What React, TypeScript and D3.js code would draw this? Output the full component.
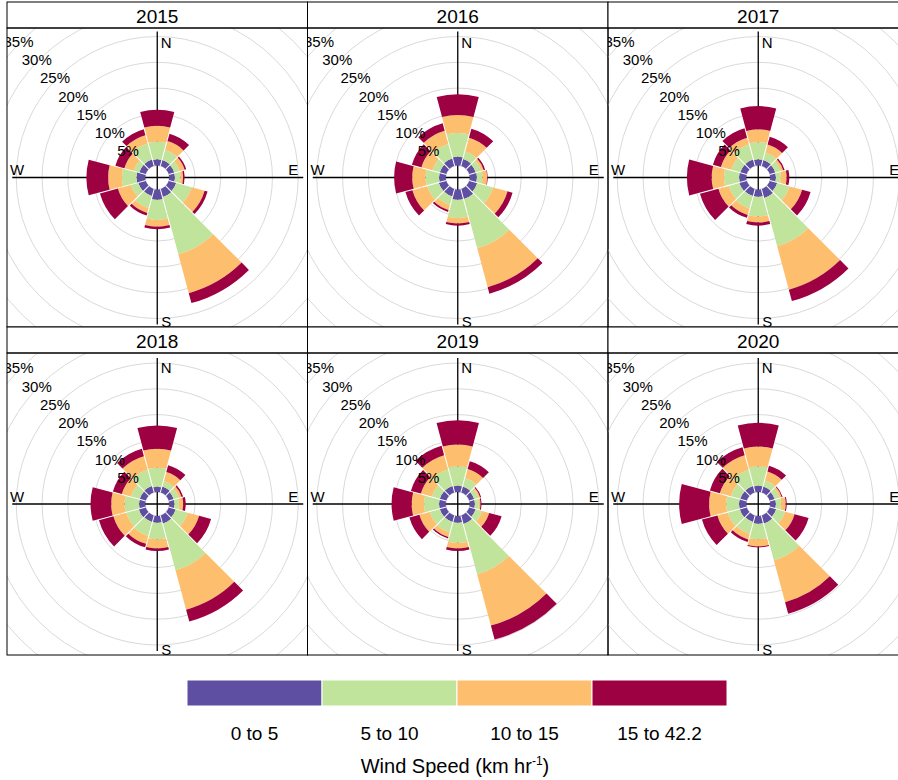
import * as d3 from 'd3'

// wind direction bins (degrees from north) and speed bins
const directions = [0, 30, 60, 90, 120, 150, 180, 210, 240, 270, 300, 330]
const speedBins = ['0 to 5', '5 to 10', '10 to 15', '15 to 42.2']
const binColours = ['#5E4FA2', '#C1E49C', '#FDBE6E', '#9E0142']
const years = ['2015', '2016', '2017', '2018', '2019', '2020']

// frequency (%) per speed bin, one row per bin, one value per direction
const freq2015 = [
  [1.2, 1.2, 1.1, 1.1, 1.5, 1.6, 2.0, 1.4, 1.5, 1.7, 1.3, 1.3],
  [3.4, 2.0, 1.1, 1.1, 3.1, 11.5, 3.9, 2.4, 1.5, 2.8, 1.1, 3.2],
  [3.1, 1.8, 1.0, 0.5, 2.6, 7.8, 1.3, 1.0, 2.6, 2.7, 1.9, 1.7],
  [3.1, 1.5, 0.3, 0.3, 0.6, 2.0, 0.5, 0.5, 3.6, 4.2, 1.8, 1.2],
]
const freq2016 = [
  [1.7, 1.4, 1.3, 1.4, 1.6, 2.0, 2.0, 1.5, 1.5, 1.3, 1.3, 1.5],
  [4.6, 1.5, 1.1, 1.1, 3.2, 9.9, 3.5, 1.7, 2.3, 2.6, 1.5, 2.9],
  [3.5, 2.8, 0.5, 0.9, 2.9, 7.8, 1.1, 1.0, 3.0, 2.6, 2.2, 2.7],
  [4.0, 1.8, 0.3, 0.1, 1.0, 1.3, 0.4, 0.4, 1.4, 3.5, 1.9, 1.5],
]
const freq2017 = [
  [1.2, 1.2, 1.1, 1.1, 1.5, 1.8, 1.4, 1.4, 1.5, 1.4, 1.3, 1.3],
  [3.3, 1.5, 1.1, 1.0, 2.5, 9.7, 3.8, 2.5, 2.1, 2.9, 1.8, 3.0],
  [2.5, 1.6, 0.5, 1.1, 2.5, 8.7, 1.2, 1.3, 2.1, 2.4, 2.1, 1.4],
  [4.5, 1.6, 0.3, 0.5, 1.7, 2.3, 0.6, 0.6, 3.7, 4.8, 1.6, 1.9],
]
const freq2018 = [
  [1.0, 1.2, 1.0, 1.0, 1.4, 1.6, 1.3, 1.3, 1.4, 1.2, 1.2, 1.3],
  [3.7, 1.1, 1.0, 0.9, 2.4, 9.4, 3.2, 2.8, 2.5, 2.8, 1.8, 3.2],
  [3.7, 1.8, 0.6, 0.8, 2.3, 7.9, 1.8, 1.6, 2.6, 2.6, 1.8, 2.8],
  [4.5, 1.4, 0.3, 0.5, 2.4, 2.4, 0.5, 0.7, 2.9, 4.0, 1.8, 1.5],
]
const freq2019 = [
  [1.2, 1.2, 1.0, 1.0, 1.3, 1.7, 1.3, 1.3, 1.3, 1.3, 1.3, 1.3],
  [3.8, 1.7, 0.9, 0.8, 1.3, 10.1, 3.9, 2.1, 2.0, 2.9, 1.6, 3.3],
  [4.2, 1.8, 0.3, 0.3, 1.4, 10.3, 1.1, 0.9, 2.1, 2.4, 2.2, 2.9],
  [4.7, 1.6, 0.2, 0.2, 2.5, 2.8, 0.5, 0.3, 2.0, 3.9, 2.0, 1.9],
]
const freq2020 = [
  [1.2, 1.2, 1.0, 1.1, 1.3, 1.6, 1.5, 1.3, 1.4, 1.4, 1.3, 1.3],
  [3.8, 1.2, 1.0, 1.0, 1.8, 7.4, 3.0, 2.4, 2.4, 2.5, 1.9, 3.2],
  [3.8, 1.8, 0.4, 0.9, 1.9, 8.4, 1.4, 1.1, 2.1, 3.3, 2.2, 3.0],
  [4.6, 1.2, 0.2, 0.2, 2.8, 2.3, 0.2, 0.5, 3.1, 5.8, 2.0, 1.6],
]
const yearFreqs = [freq2015, freq2016, freq2017, freq2018, freq2019, freq2020]

// grid rings every 5 %
const ringTicks = [0, 5, 10, 15, 20, 25, 30, 35, 40, 45]
const labelTicks = [5, 10, 15, 20, 25, 30, 35]

const W = 898
const H = 780
const colEdges = [7, 307.5, 608, 908.5]
const rowTops = [2, 327]
const stripH = 26
const rowBottoms = [327, 655]
const FONT = '"Liberation Sans", Arial, sans-serif'

const rScale = d3.scaleLinear().domain([0, 40]).range([12, 12 + 8 * 25.8])
const half = (30 / 2) * Math.PI / 180
const toRad = (deg: number) => deg * Math.PI / 180

function Panel({ idx }: { idx: number }) {
  const col = idx % 3
  const row = Math.floor(idx / 3)
  const x0 = colEdges[col]
  const x1 = colEdges[col + 1]
  const top = rowTops[row]
  const py0 = top + stripH
  const py1 = rowBottoms[row]
  const cx = (x0 + x1) / 2
  const cy = (py0 + py1) / 2
  const freqs = yearFreqs[idx]
  const clipId = `clip-${idx}`

  const arc = d3.arc<any>().padAngle(0.01).padRadius(100)

  const wedges: { d: string; fill: string; key: string }[] = []
  directions.forEach((dir, j) => {
    let cum = 0
    freqs.forEach((row, b) => {
      const v = row[j]
      const d = arc({
        innerRadius: rScale(cum),
        outerRadius: rScale(cum + v),
        startAngle: toRad(dir) - half,
        endAngle: toRad(dir) + half,
      })
      cum += v
      wedges.push({ d: d || '', fill: binColours[b], key: `${dir}-${b}` })
    })
  })

  const labAng = toRad(315)
  return (
    <g>
      <defs>
        <clipPath id={clipId}>
          <rect x={x0} y={py0} width={x1 - x0} height={py1 - py0} />
        </clipPath>
      </defs>
      <g clipPath={`url(#${clipId})`}>
        {ringTicks.map(t => (
          <circle key={t} cx={cx} cy={cy} r={rScale(t)} fill="none" stroke="#d9d9d9" strokeWidth={1} />
        ))}
        <line x1={cx} x2={cx} y1={cy - 146} y2={cy + 147} stroke="#000" strokeWidth={1.3} />
        <line x1={cx - 145} x2={cx + 146} y1={cy} y2={cy} stroke="#000" strokeWidth={1.3} />
        <g transform={`translate(${cx},${cy})`}>
          {wedges.map(w => (
            <path key={w.key} d={w.d} fill={w.fill} />
          ))}
        </g>
        {labelTicks.map(t => (
          <text key={t}
            x={cx - 2.5 + rScale(t) * Math.sin(labAng)}
            y={cy - rScale(t) * Math.cos(labAng)}
            textAnchor="middle" dominantBaseline="central"
            fontSize={15} fontFamily={FONT} fill="#000">{`${t}%`}</text>
        ))}
        <text x={cx + 9} y={py0 + 14} textAnchor="middle" dominantBaseline="central" fontSize={15} fontFamily={FONT}>N</text>
        <text x={cx + 9} y={py1 - 6} textAnchor="middle" dominantBaseline="central" fontSize={15} fontFamily={FONT}>S</text>
        <text x={x0 + 10} y={cy - 8} textAnchor="middle" dominantBaseline="central" fontSize={15} fontFamily={FONT}>W</text>
        <text x={cx + 136} y={cy - 8} textAnchor="middle" dominantBaseline="central" fontSize={15} fontFamily={FONT}>E</text>
      </g>
      {/* strip */}
      <rect x={x0} y={top} width={x1 - x0} height={stripH} fill="#fff" stroke="#000" strokeWidth={1} />
      <text x={cx} y={top + stripH / 2 + 1} textAnchor="middle" dominantBaseline="central"
        fontSize={19} fontFamily={FONT} fill="#000">{years[idx]}</text>
      <rect x={x0} y={py0} width={x1 - x0} height={py1 - py0} fill="none" stroke="#000" strokeWidth={1} />
    </g>
  )
}

function Legend() {
  const x = d3.scaleBand().domain(speedBins).range([187, 727]).padding(0)
  return (
    <g>
      {speedBins.map((b, i) => (
        <g key={b}>
          <rect x={x(b)} y={680} width={x.bandwidth()} height={26} fill={binColours[i]} stroke="#fff" strokeWidth={1} />
          <text x={(x(b) || 0) + x.bandwidth() / 2} y={740} textAnchor="middle"
            fontSize={19} fontFamily={FONT} fill="#000">{b}</text>
        </g>
      ))}
      <text x={455} y={773} textAnchor="middle" fontSize={20} fontFamily={FONT} fill="#000">
        Wind Speed (km hr<tspan dy={-8} fontSize={12}>-1</tspan><tspan dy={8}>)</tspan>
      </text>
    </g>
  )
}

export default function App() {
  return (
    <svg width={W} height={H} style={{ position: 'absolute', left: 0, top: 0, background: '#fff' }}>
      <rect width={W} height={H} fill="#fff" />
      {years.map((y, i) => <Panel key={y} idx={i} />)}
      <Legend />
    </svg>
  )
}
